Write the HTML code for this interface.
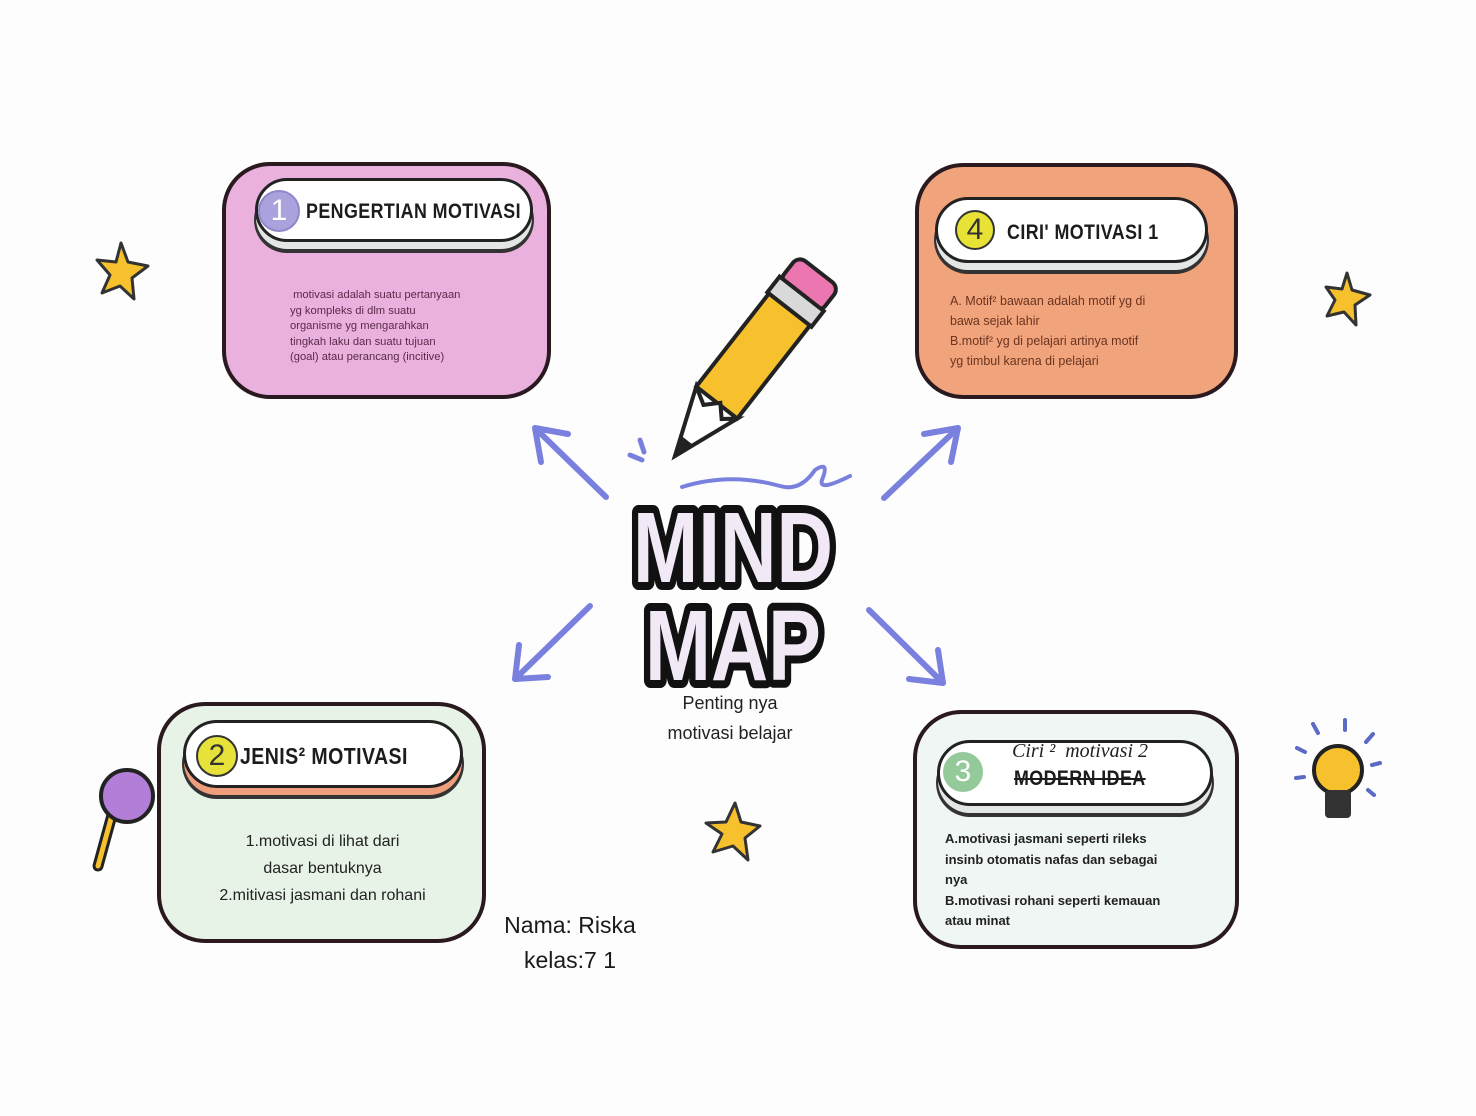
<!DOCTYPE html>
<html><head><meta charset="utf-8"><style>
body{margin:0;width:1476px;height:1116px;background:#fdfdfd;position:relative;overflow:hidden;font-family:"Liberation Sans",sans-serif}
.box{position:absolute;border:4px solid #2a1a1f;border-radius:48px;box-sizing:border-box}
.pill{position:absolute;background:#fff;border:3px solid #222;border-radius:34px;box-sizing:border-box;box-shadow:0 8px 0 -1px #e2e6e4,0 10px 0 1px #333}
.ttl{position:absolute;font-weight:bold;font-size:21px;color:#1c1c1c;letter-spacing:0.5px;transform:scaleX(.85);transform-origin:left;white-space:nowrap}
.num{position:absolute;border-radius:50%;text-align:center;font-size:30px;color:#333}
.t{position:absolute;font-size:12px;line-height:15.5px}
</style></head><body>

<div class="box" style="left:222px;top:162px;width:329px;height:237px;background:#eab0de;"></div>
<div class="pill" style="left:255px;top:178px;width:278px;height:64px;"></div>
<div class="num" style="left:258px;top:190px;width:38px;height:38px;background:#a9a2dc;line-height:38px;color:#fff;border:2px solid #8f88c8">1</div>
<div class="ttl" style="left:306px;top:200px;">PENGERTIAN MOTIVASI</div>
<div class="t" style="left:290px;top:288px;font-size:11.2px;color:#5a2a4a">&nbsp;motivasi adalah suatu pertanyaan<br>yg kompleks di dlm suatu<br>organisme yg mengarahkan<br>tingkah laku dan suatu tujuan<br>(goal) atau perancang (incitive)</div>

<div class="box" style="left:915px;top:163px;width:323px;height:236px;background:#f1a47c;"></div>
<div class="pill" style="left:935px;top:197px;width:273px;height:66px;"></div>
<div class="num" style="left:955px;top:210px;width:36px;height:36px;background:#e8e236;line-height:36px;border:2px solid #333">4</div>
<div class="ttl" style="left:1007px;top:221px;">CIRI' MOTIVASI 1</div>
<div class="t" style="left:950px;top:291px;font-size:12.5px;line-height:20px;color:#6a3420">A. Motif² bawaan adalah motif yg di<br>bawa sejak lahir<br>B.motif² yg di pelajari artinya motif<br>yg timbul karena di pelajari</div>

<div class="box" style="left:157px;top:702px;width:329px;height:241px;background:#e8f3e8;"></div>
<div class="pill" style="left:183px;top:720px;width:280px;height:68px;box-shadow:0 8px 0 -1px #ef9e7c,0 10px 0 1px #333"></div>
<div class="num" style="left:196px;top:735px;width:38px;height:38px;background:#e6e23a;line-height:38px;border:2px solid #333">2</div>
<div class="ttl" style="left:240px;top:743px;font-size:23px">JENIS² MOTIVASI</div>
<div class="t" style="left:190px;top:828px;width:265px;text-align:center;font-size:16px;line-height:27px;color:#222">1.motivasi di lihat dari<br>dasar bentuknya<br>2.mitivasi jasmani dan rohani</div>

<div class="box" style="left:913px;top:710px;width:326px;height:239px;background:#f0f6f3;"></div>
<div class="pill" style="left:937px;top:740px;width:276px;height:66px;"></div>
<div class="num" style="left:943px;top:752px;width:40px;height:40px;background:#94c99a;line-height:40px;color:#fff">3</div>
<div style="position:absolute;left:1012px;top:740px;font-size:20px;color:#222;font-style:italic;font-family:'Liberation Serif',serif">Ciri ² &nbsp;motivasi 2</div>
<div class="ttl" style="left:1014px;top:767px;text-decoration:line-through">MODERN IDEA</div>
<div class="t" style="left:945px;top:829px;font-size:13px;line-height:20.5px;font-weight:bold;color:#222">A.motivasi jasmani seperti rileks<br>insinb otomatis nafas dan sebagai<br>nya<br>B.motivasi rohani seperti kemauan<br>atau minat</div>

<svg style="position:absolute;left:0;top:0" width="1476" height="1116">
<g stroke="#7a80de" stroke-width="6" fill="none" stroke-linecap="round" stroke-linejoin="round">
<path d="M606 497 L535 428 M535 428 L568 434 M535 428 L541 462"/>
<path d="M884 498 L958 428 M958 428 L924 434 M958 428 L951 462"/>
<path d="M590 606 L515 679 M515 679 L548 677 M515 679 L519 645"/>
<path d="M869 610 L943 683 M943 683 L938 650 M943 683 L909 679"/>
<path d="M682 487 Q730 472 780 486 Q800 492 815 470 Q830 460 822 480 Q818 492 850 476" stroke-width="4"/>
<path d="M640 440 L644 452 M630 455 L642 460" stroke-width="5"/>
</g>
<g transform="translate(750,360) rotate(38)">
<rect x="-26" y="-112" width="52" height="32" rx="9" fill="#ec77b0" stroke="#222" stroke-width="4"/>
<rect x="-28" y="-84" width="56" height="20" fill="#d9d9d9" stroke="#222" stroke-width="4"/>
<rect x="-26" y="-64" width="52" height="118" fill="#f6c12c" stroke="#222" stroke-width="4"/>
<path d="M-26 54 L0 122 L26 54 L14 64 L3 52 L-9 64 Z" fill="#fff" stroke="#222" stroke-width="4"/>
<path d="M-8 102 L0 122 L8 102 Z" fill="#222"/>
</g>
<g font-family="Liberation Sans" font-weight="bold" fill="#f1eaf6" stroke="#111" stroke-width="16" paint-order="stroke" stroke-linejoin="round">
<text x="733" y="582" text-anchor="middle" font-size="100" textLength="200" lengthAdjust="spacingAndGlyphs">MIND</text>
<text x="733" y="680" text-anchor="middle" font-size="100" textLength="176" lengthAdjust="spacingAndGlyphs">MAP</text>
</g>
<g fill="#f6c12c" stroke="#333" stroke-width="3" stroke-linejoin="round">
<path d="M121 243 L128 262 L148 266 L132 278 L134 299 L120 286 L102 293 L110 275 L97 260 L116 262 Z"/>
<path d="M1347 273 L1352 290 L1370 295 L1355 305 L1356 325 L1344 312 L1327 316 L1335 300 L1326 287 L1342 289 Z"/>
<path d="M735 803 L741 822 L760 826 L745 838 L748 860 L733 846 L713 852 L722 834 L706 823 L726 822 Z"/>
</g>
<line x1="112" y1="815" x2="98" y2="866" stroke="#222" stroke-width="11" stroke-linecap="round"/>
<line x1="112" y1="815" x2="98" y2="866" stroke="#f6c12c" stroke-width="5" stroke-linecap="round"/>
<circle cx="127" cy="796" r="26" fill="#b27ed8" stroke="#222" stroke-width="4"/>
<circle cx="1338" cy="770" r="24" fill="#f6c12c" stroke="#222" stroke-width="4"/>
<rect x="1325" y="790" width="26" height="28" fill="#333" rx="4"/>
<g stroke="#5b6ac4" stroke-width="4" stroke-linecap="round">
<line x1="1345" y1="720" x2="1345" y2="730"/><line x1="1313" y1="724" x2="1318" y2="733"/><line x1="1373" y1="734" x2="1366" y2="742"/>
<line x1="1297" y1="748" x2="1305" y2="752"/><line x1="1380" y1="763" x2="1372" y2="765"/><line x1="1296" y1="778" x2="1304" y2="777"/><line x1="1374" y1="795" x2="1368" y2="790"/>
</g>
</svg>

<div style="position:absolute;left:640px;top:688px;width:180px;text-align:center;font-size:18px;line-height:30px;color:#222">Penting nya<br>motivasi belajar</div>
<div style="position:absolute;left:480px;top:908px;width:180px;text-align:center;font-size:23px;line-height:35px;color:#1a1a1a">Nama: Riska<br>kelas:7 1</div>
</body></html>
